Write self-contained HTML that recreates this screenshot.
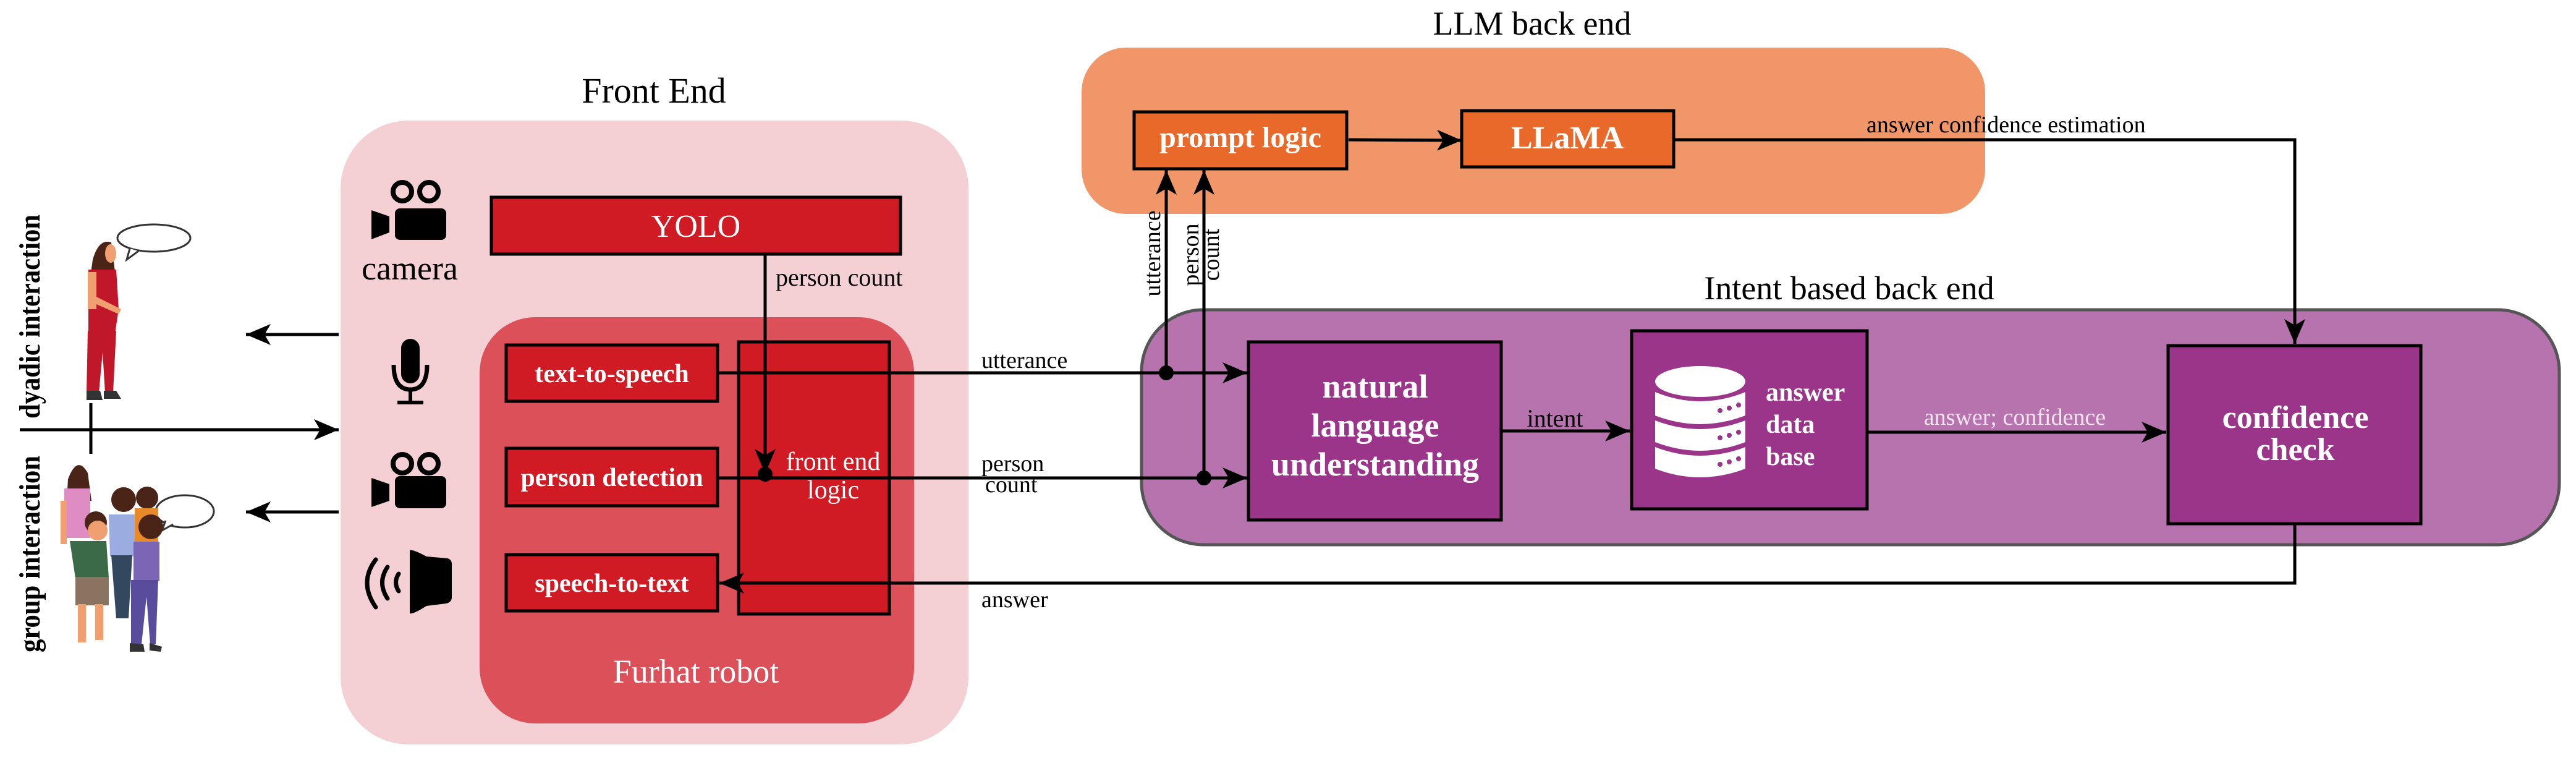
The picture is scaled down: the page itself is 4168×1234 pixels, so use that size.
<!DOCTYPE html>
<html><head><meta charset="utf-8"><style>
html,body{margin:0;padding:0;background:#fff}
svg{display:block}
text{font-family:"Liberation Serif",serif}
.w{fill:#fff;font-weight:bold}
</style></head><body>
<svg width="4168" height="1234" viewBox="0 0 4168 1234" xmlns="http://www.w3.org/2000/svg">
<defs>
<marker id="ar" viewBox="0 0 40 34" refX="40" refY="17" markerWidth="40" markerHeight="34" markerUnits="userSpaceOnUse" orient="auto">
<path d="M0,0 L40,17 L0,34 L10,17 Z" fill="#000"/>
</marker>
</defs>

<!-- Front End -->
<text x="1058" y="166" font-size="58" text-anchor="middle">Front End</text>
<rect x="551" y="195" width="1016" height="1009" rx="110" fill="#f4d0d4"/>
<rect x="776" y="513" width="703" height="657" rx="90" fill="#dc505a"/>
<text x="1126" y="1104" font-size="54" text-anchor="middle" fill="#fff">Furhat robot</text>

<rect x="795" y="319" width="662" height="92" fill="#d01a24" stroke="#000" stroke-width="5"/>
<text x="1126" y="383" font-size="52" text-anchor="middle" fill="#fff">YOLO</text>

<rect x="1195" y="553" width="244" height="440" fill="#d01a24" stroke="#000" stroke-width="5"/>
<text x="1348" y="760" font-size="42" text-anchor="middle" fill="#fff">front end</text>
<text x="1348" y="806" font-size="42" text-anchor="middle" fill="#fff">logic</text>

<rect x="819" y="558" width="342" height="91" fill="#d01a24" stroke="#000" stroke-width="5"/>
<text x="990" y="618" font-size="42" text-anchor="middle" class="w">text-to-speech</text>
<rect x="819" y="725" width="342" height="93" fill="#d01a24" stroke="#000" stroke-width="5"/>
<text x="990" y="786" font-size="42" text-anchor="middle" class="w">person detection</text>
<rect x="819" y="897" width="342" height="91" fill="#d01a24" stroke="#000" stroke-width="5"/>
<text x="990" y="957" font-size="42" text-anchor="middle" class="w">speech-to-text</text>

<!-- icons -->
<g fill="#000">
 <circle cx="651" cy="310" r="15" fill="none" stroke="#000" stroke-width="8"/>
 <circle cx="694" cy="310" r="15" fill="none" stroke="#000" stroke-width="8"/>
 <rect x="639" y="337" width="83" height="51" rx="8"/>
 <path d="M601,340 L630,350 L630,376 L601,387 Z"/>
 <circle cx="651" cy="750" r="15" fill="none" stroke="#000" stroke-width="8"/>
 <circle cx="694" cy="750" r="15" fill="none" stroke="#000" stroke-width="8"/>
 <rect x="639" y="770" width="83" height="52" rx="8"/>
 <path d="M601,773 L630,783 L630,810 L601,820 Z"/>
 <rect x="649" y="548" width="30" height="72" rx="15"/>
 <path d="M637,590 Q637,630 664,630 Q691,630 691,590" fill="none" stroke="#000" stroke-width="7"/>
 <rect x="661" y="628" width="6" height="22"/>
 <rect x="643" y="648" width="42" height="6"/>
 <path d="M663,890 Q668,888 690,900 L724,903 Q732,905 731,915 L731,966 Q731,974 722,976 L690,980 Q668,994 663,992 Z"/>
 <path d="M608,905 Q580,942 608,982" fill="none" stroke="#000" stroke-width="7" stroke-linecap="round"/>
 <path d="M627,917 Q610,942 627,968" fill="none" stroke="#000" stroke-width="7" stroke-linecap="round"/>
 <path d="M645,928 Q636,942 645,956" fill="none" stroke="#000" stroke-width="7" stroke-linecap="round"/>
</g>
<text x="663" y="452" font-size="54" text-anchor="middle">camera</text>

<!-- left side -->
<text transform="translate(64,512) rotate(-90)" font-size="48" font-weight="bold" text-anchor="middle" textLength="330" lengthAdjust="spacingAndGlyphs">dyadic interaction</text>
<text transform="translate(64,896) rotate(-90)" font-size="48" font-weight="bold" text-anchor="middle" textLength="318" lengthAdjust="spacingAndGlyphs">group interaction</text>
<line x1="32" y1="695" x2="548" y2="695" stroke="#000" stroke-width="5" marker-end="url(#ar)"/>
<line x1="147" y1="652" x2="147" y2="734" stroke="#000" stroke-width="5"/>
<line x1="548" y1="541" x2="398" y2="541" stroke="#000" stroke-width="5" marker-end="url(#ar)"/>
<line x1="548" y1="828" x2="398" y2="828" stroke="#000" stroke-width="5" marker-end="url(#ar)"/>

<!-- dyadic person -->
<g>
 <ellipse cx="249" cy="385" rx="59" ry="22" fill="#fff" stroke="#333" stroke-width="3"/>
 <path d="M210,402 L205,420 L224,406" fill="#fff" stroke="#333" stroke-width="3"/>
 <path d="M150,420 Q160,385 180,392 L190,470 L143,470 Z" fill="#4a2416"/>
 <ellipse cx="179" cy="410" rx="9" ry="15" fill="#f0a070"/>
 <path d="M143,436 L188,436 L192,500 L186,540 L143,540 Z" fill="#c0182a"/>
 <rect x="142" y="440" width="14" height="60" fill="#f0a070"/>
 <path d="M156,480 L196,500 L192,508 L156,492 Z" fill="#f0a070"/>
 <path d="M142,535 L188,535 L183,635 L170,635 L166,570 L160,635 L140,635 Z" fill="#c0182a"/>
 <path d="M140,632 L162,632 L166,647 L140,647 Z M168,632 L188,632 L196,645 L168,645 Z" fill="#333"/>
</g>
<!-- group -->
<g>
 <ellipse cx="299" cy="827" rx="47" ry="26" fill="#fff" stroke="#333" stroke-width="3"/>
 <path d="M268,842 L262,858 L280,848" fill="#fff" stroke="#333" stroke-width="3"/>
 <path d="M110,775 Q125,735 142,765 L148,810 L108,810 Z" fill="#4a2416"/>
 <rect x="104" y="790" width="42" height="80" fill="#e08cc4"/>
 <rect x="98" y="810" width="10" height="70" fill="#f0a070"/>
 <circle cx="155" cy="845" r="18" fill="#4a2416"/>
 <ellipse cx="158" cy="858" rx="16" ry="16" fill="#f0a070"/>
 <path d="M113,875 L172,875 L176,935 L122,935 Z" fill="#3a6a48"/>
 <rect x="122" y="933" width="54" height="46" fill="#8a7460"/>
 <rect x="126" y="977" width="13" height="62" fill="#f0a070"/>
 <rect x="154" y="977" width="13" height="58" fill="#f0a070"/>
 <circle cx="200" cy="808" r="20" fill="#4a2416"/>
 <path d="M176,832 L218,832 L222,900 L178,900 Z" fill="#9aace0"/>
 <path d="M180,898 L214,898 L208,1000 L188,1000 Z" fill="#33485e"/>
 <circle cx="238" cy="805" r="18" fill="#4a2416"/>
 <rect x="218" y="822" width="38" height="112" fill="#e88a2a"/>
 <circle cx="244" cy="852" r="20" fill="#4a2416"/>
 <path d="M216,876 L258,876 L258,940 L216,940 Z" fill="#7a66b4"/>
 <path d="M212,938 L256,938 L252,1042 L243,1042 L237,965 L229,1042 L212,1042 Z" fill="#5a4c9c"/>
 <path d="M210,1040 L232,1042 L234,1054 L210,1054 Z M242,1040 L262,1046 L260,1054 L242,1052 Z" fill="#333"/>
</g>

<!-- LLM back end -->
<text x="2479" y="56" font-size="54" text-anchor="middle">LLM back end</text>
<rect x="1750" y="77" width="1462" height="269" rx="72" fill="#f09668"/>
<rect x="1835" y="181" width="344" height="92" fill="#e9692a" stroke="#000" stroke-width="5"/>
<text x="2007" y="238" font-size="48" text-anchor="middle" class="w">prompt logic</text>
<rect x="2365" y="179" width="343" height="91" fill="#e9692a" stroke="#000" stroke-width="5"/>
<text x="2536" y="240" font-size="52" text-anchor="middle" class="w">LLaMA</text>
<line x1="2182" y1="226" x2="2365" y2="227" stroke="#000" stroke-width="5" marker-end="url(#ar)"/>

<!-- Intent back end -->
<text x="2992" y="484" font-size="54" text-anchor="middle">Intent based back end</text>
<rect x="1847" y="501" width="2294" height="380" rx="100" fill="#b773ad" stroke="#555" stroke-width="5"/>
<rect x="2020" y="553" width="409" height="288" fill="#9a3589" stroke="#000" stroke-width="5"/>
<text x="2225" y="643" font-size="54" text-anchor="middle" class="w">natural</text>
<text x="2225" y="706" font-size="54" text-anchor="middle" class="w">language</text>
<text x="2225" y="769" font-size="54" text-anchor="middle" class="w">understanding</text>

<rect x="2640" y="535" width="381" height="288" fill="#9a3589" stroke="#000" stroke-width="5"/>
<g fill="#fff">
 <ellipse cx="2751" cy="617" rx="73" ry="25"/>
 <path d="M2678,634 Q2751,664 2824,634 L2824,672 Q2751,700 2678,672 Z"/>
 <path d="M2678,680 Q2751,708 2824,680 L2824,715 Q2751,743 2678,715 Z"/>
 <path d="M2678,723 Q2751,751 2824,723 L2824,758 Q2751,786 2678,758 Z"/>
</g>
<g fill="#9a3589">
 <circle cx="2783" cy="664" r="4"/><circle cx="2798" cy="660" r="4"/><circle cx="2813" cy="655" r="4"/>
 <circle cx="2783" cy="708" r="4"/><circle cx="2798" cy="704" r="4"/><circle cx="2813" cy="699" r="4"/>
 <circle cx="2783" cy="751" r="4"/><circle cx="2798" cy="747" r="4"/><circle cx="2813" cy="742" r="4"/>
</g>
<text x="2857" y="648" font-size="42" class="w">answer</text>
<text x="2857" y="700" font-size="42" class="w">data</text>
<text x="2857" y="752" font-size="42" class="w">base</text>

<rect x="3508" y="559" width="409" height="288" fill="#9a3589" stroke="#000" stroke-width="5"/>
<text x="3714" y="692" font-size="52" text-anchor="middle" class="w">confidence</text>
<text x="3714" y="744" font-size="52" text-anchor="middle" class="w">check</text>

<line x1="2429" y1="697" x2="2637" y2="697" stroke="#000" stroke-width="5" marker-end="url(#ar)"/>
<text x="2516" y="690" font-size="40" text-anchor="middle">intent</text>
<line x1="3021" y1="699" x2="3505" y2="699" stroke="#000" stroke-width="5" marker-end="url(#ar)"/>
<text x="3260" y="687" font-size="38" text-anchor="middle" fill="#f4e4f0">answer; confidence</text>

<!-- answer confidence estimation -->
<polyline points="2708,226 3713,226 3713,556" fill="none" stroke="#000" stroke-width="5" marker-end="url(#ar)"/>
<text x="3020" y="214" font-size="38">answer confidence estimation</text>

<!-- answer line -->
<polyline points="3713,847 3713,943 1164,943" fill="none" stroke="#000" stroke-width="5" marker-end="url(#ar)"/>
<text x="1588" y="982" font-size="38">answer</text>

<!-- YOLO to front end logic -->
<line x1="1238" y1="411" x2="1238" y2="766" stroke="#000" stroke-width="5" marker-end="url(#ar)"/>
<text x="1255" y="462" font-size="40">person count</text>

<!-- utterance / person count to NLU -->
<line x1="1161" y1="603" x2="2018" y2="603" stroke="#000" stroke-width="5" marker-end="url(#ar)"/>
<line x1="1161" y1="773" x2="2018" y2="773" stroke="#000" stroke-width="5" marker-end="url(#ar)"/>
<circle cx="1238" cy="767" r="12" fill="#000"/>
<circle cx="1887" cy="603" r="12" fill="#000"/>
<circle cx="1948" cy="773" r="12" fill="#000"/>
<text x="1588" y="595" font-size="38">utterance</text>
<text x="1588" y="762" font-size="38">person</text>
<text x="1594" y="796" font-size="38">count</text>

<line x1="1887" y1="603" x2="1887" y2="275" stroke="#000" stroke-width="5" marker-end="url(#ar)"/>
<line x1="1948" y1="773" x2="1948" y2="275" stroke="#000" stroke-width="5" marker-end="url(#ar)"/>
<text transform="translate(1877,410) rotate(-90)" font-size="38" text-anchor="middle">utterance</text>
<text transform="translate(1939,412) rotate(-90)" font-size="38" text-anchor="middle">person</text>
<text transform="translate(1972,412) rotate(-90)" font-size="38" text-anchor="middle">count</text>
</svg>
</body></html>
